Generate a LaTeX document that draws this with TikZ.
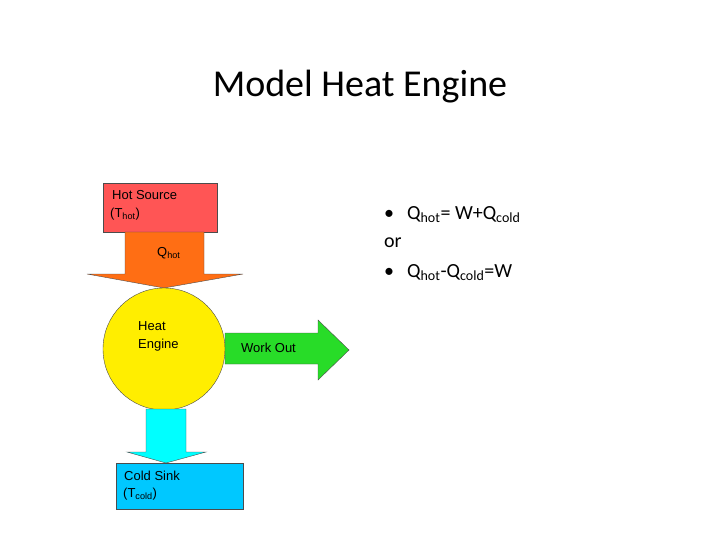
\documentclass[tikz,border=0pt]{standalone}
\usepackage{fontspec}
\setmainfont{Carlito}
\newfontfamily\arialf{Liberation Sans}
\begin{document}
\begin{tikzpicture}[x=1pt,y=-1pt,
  shp/.style={draw=black!70,line width=0.4pt},
  lbl/.style={font=\arialf\fontsize{13}{15}\selectfont,anchor=west,inner sep=0pt},
  body/.style={font=\fontsize{20}{24}\selectfont,anchor=west,inner sep=0pt}]
\useasboundingbox (0,0) rectangle (720,540);
\fill[white] (0,0) rectangle (720,540);
\node[font=\fontsize{38}{44}\selectfont] (title) at (360,87) {Model Heat Engine};
% hot source
\draw[shp,fill={rgb,255:red,255;green,85;blue,85}] (103,183) rectangle (217,232);
\node[lbl] (hs1) at (112,195) {Hot Source};
\node[lbl] (hs2) at (110,214) {(T\textsubscript{hot})};
% orange arrow
\draw[shp,fill={rgb,255:red,255;green,110;blue,20}] (125,232) -- (204,232) -- (204,274) -- (243,274) -- (164,288) -- (87,274) -- (125,274) -- cycle;
\node[lbl] (qh) at (157,253) {Q\textsubscript{hot}};
% engine
\draw[shp,fill={rgb,255:red,255;green,238;blue,0}] (164,349) circle (61);
\node[lbl] (he1) at (138,326) {Heat};
\node[lbl] (he2) at (138,345) {Engine};
% green arrow
\draw[shp,fill={rgb,255:red,40;green,220;blue,40}] (225,333) -- (318,333) -- (318,320) -- (349,350) -- (318,380) -- (318,364) -- (225,364) -- cycle;
\node[lbl] (wo) at (241,348) {Work Out};
% cyan arrow
\draw[shp,fill={rgb,255:red,0;green,255;blue,255}] (146,409) -- (186,409) -- (186,452) -- (206,452) -- (166,463) -- (127,452) -- (146,452) -- cycle;
% cold sink
\draw[shp,fill={rgb,255:red,0;green,200;blue,255}] (116,463) rectangle (243,509);
\node[lbl] (cs1) at (124,476) {Cold Sink};
\node[lbl] (cs2) at (123,494) {(T\textsubscript{cold})};
% text
\node[body] (b1) at (384,215) {•\hspace{13pt}Q\textsubscript{hot}= W+Q\textsubscript{cold}};
\node[body] (or) at (384,243) {or};
\node[body] (b2) at (384,273) {•\hspace{13pt}Q\textsubscript{hot}-Q\textsubscript{cold}=W};
\end{tikzpicture}
\end{document}
